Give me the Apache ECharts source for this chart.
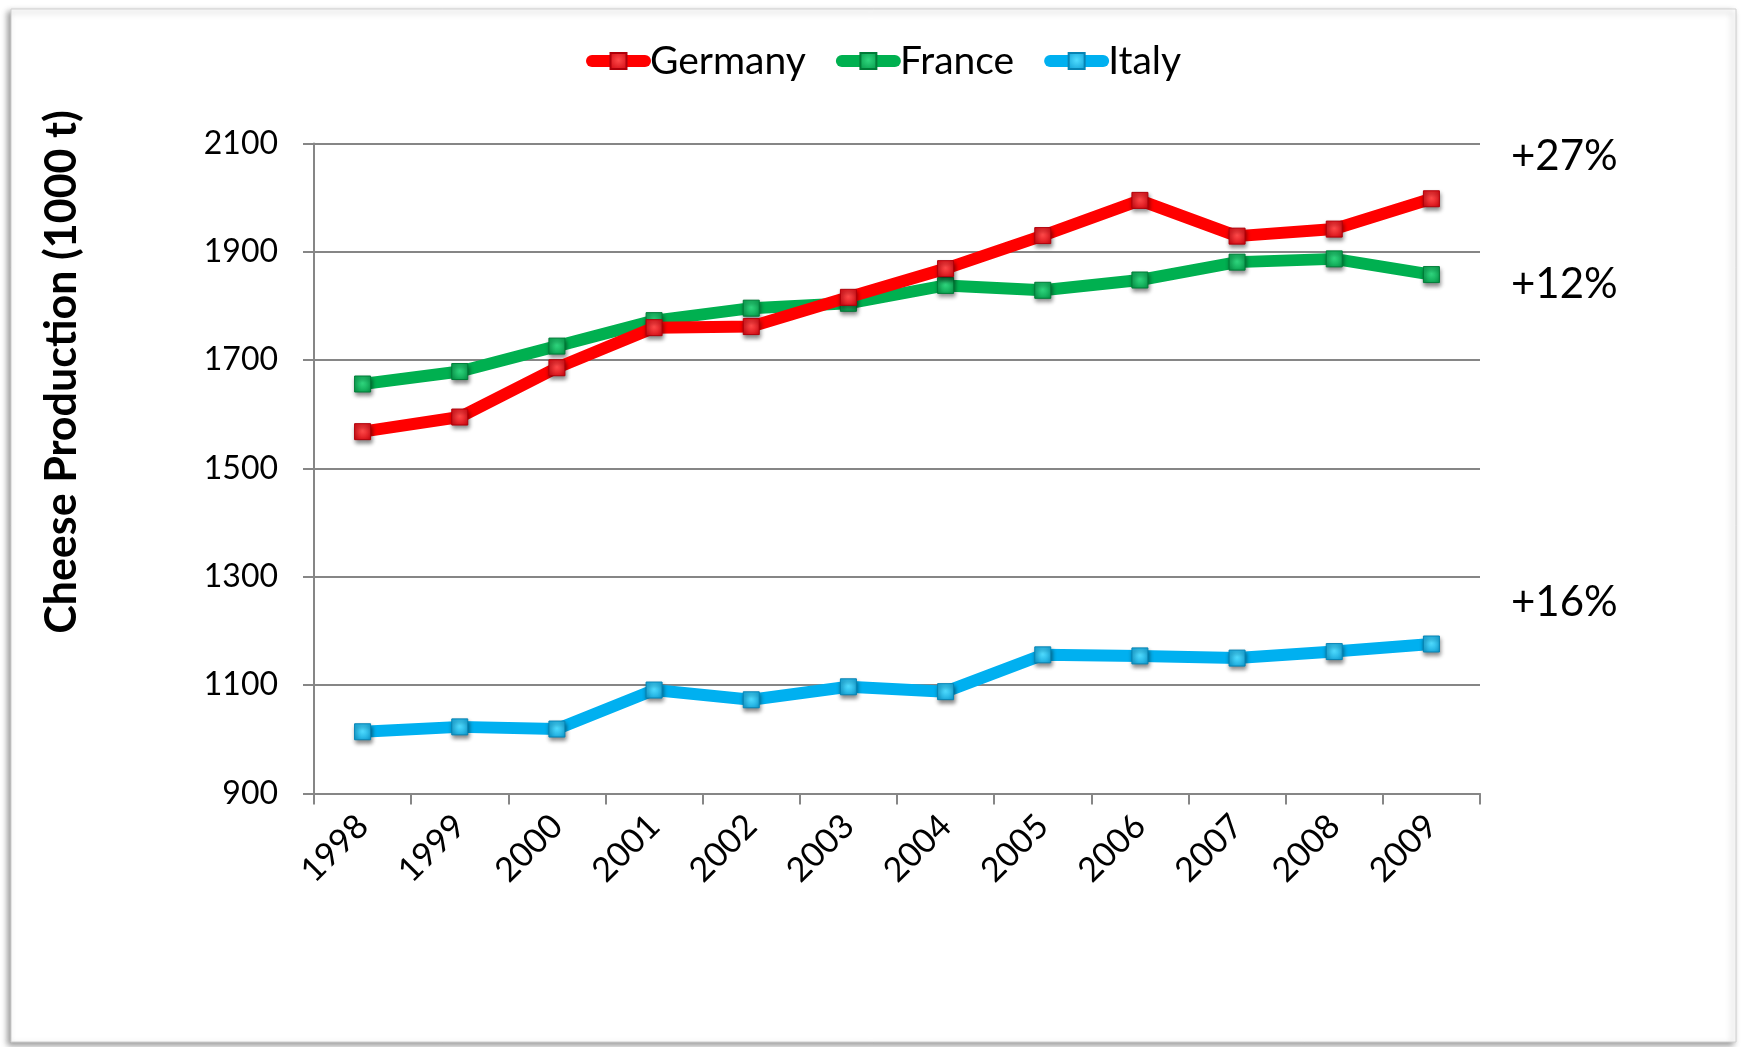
<!DOCTYPE html>
<html>
<head>
<meta charset="utf-8">
<title>Cheese Production</title>
<script src="https://cdn.jsdelivr.net/npm/echarts@6/dist/echarts.min.js"></script>
<style>
  html, body { margin: 0; padding: 0; background: #ffffff; }
  #chart { width: 1741px; height: 1047px; }
</style>
</head>
<body>
<div id="chart"></div>
<script>
// Cheese production, thousand tonnes
const years = ['1998', '1999', '2000', '2001', '2002', '2003', '2004', '2005', '2006', '2007', '2008', '2009'];
const germany = [1568, 1595, 1686, 1760, 1762, 1816, 1869, 1930, 1995, 1929, 1942, 1998];
const france  = [1656, 1679, 1726, 1773, 1796, 1805, 1838, 1829, 1848, 1881, 1887, 1858];
const italy   = [1014, 1023, 1019, 1091, 1073, 1097, 1088, 1156, 1154, 1150, 1162, 1176];

const seriesNames = ['Germany', 'France', 'Italy'];
const seriesData = [germany, france, italy];

const yMin = 900;
const yMax = 2100;
const yStep = 200;
const yAxisTitle = 'Cheese Production (1000 t)';

const FONT = 'Lato, "Open Sans", sans-serif';

// line colour, marker light / dark shades
const palette = [
  { line: '#ff0000', light: '#ff4a4a', dark: '#cc000a', edge: '#b0000a' },
  { line: '#00b050', light: '#30d67e', dark: '#009444', edge: '#007c38' },
  { line: '#00b0f0', light: '#50dcff', dark: '#0898d0', edge: '#0784b4' }
];

// growth from first to last year, shown to the right of the plot
const growthText = seriesData.map(d => '+' + Math.round((d[d.length - 1] / d[0] - 1) * 100) + '%');
const growthY = [156, 284, 602];

const chart = echarts.init(document.getElementById('chart'), null, { renderer: 'canvas' });

const markerFill = p => ({
  type: 'radial', x: 0.5, y: 0.45, r: 0.75,
  colorStops: [{ offset: 0, color: p.light }, { offset: 1, color: p.dark }]
});

const series = seriesNames.map((name, i) => ({
  name: name,
  type: 'line',
  data: seriesData[i],
  symbol: 'rect',
  symbolSize: 16,
  smooth: false,
  lineStyle: { color: palette[i].line, width: 12, cap: 'round', join: 'round' },
  itemStyle: {
    color: markerFill(palette[i]),
    borderColor: palette[i].edge,
    borderWidth: 1,
    shadowColor: 'rgba(0,0,0,0.45)',
    shadowBlur: 4,
    shadowOffsetX: 1,
    shadowOffsetY: 3
  },
  emphasis: { disabled: true },
  animation: false
}));
// Germany drawn over France where the lines cross
series[0].z = 5; series[1].z = 4; series[2].z = 3;

const graphics = [
  {
    type: 'rect',
    shape: { x: 11, y: 9, width: 1725, height: 1033 },
    style: {
      fill: '#ffffff',
      stroke: '#cfcfcf',
      lineWidth: 1,
      shadowColor: 'rgba(0,0,0,0.4)',
      shadowBlur: 6,
      shadowOffsetX: -3,
      shadowOffsetY: 3
    },
    z: -10,
    silent: true
  },
  {
    type: 'text',
    x: 62,
    y: 372,
    rotation: Math.PI / 2,
    style: {
      text: yAxisTitle,
      font: 'bold 43px ' + FONT,
      fill: '#000000',
      align: 'center',
      verticalAlign: 'middle'
    },
    silent: true
  }
].concat(growthText.map((t, i) => ({
  type: 'text',
  x: 1511,
  y: growthY[i],
  style: {
    text: t,
    font: '42px ' + FONT,
    fill: '#000000',
    align: 'left',
    verticalAlign: 'middle'
  },
  silent: true
})));

chart.setOption({
  backgroundColor: '#ffffff',
  animation: false,
  textStyle: { fontFamily: FONT },
  legend: {
    data: seriesNames,
    left: 581,
    top: 33,
    itemWidth: 53,
    itemHeight: 20,
    itemGap: 30,
    lineStyle: { width: 12, cap: 'round' },
    textStyle: { fontFamily: FONT, fontSize: 39, color: '#000000', lineHeight: 46 },
    selectedMode: false
  },
  grid: { left: 314, right: 261, top: 143.5, bottom: 253.5, containLabel: false },
  xAxis: {
    type: 'category',
    data: years,
    boundaryGap: true,
    axisLine: { show: true, lineStyle: { color: '#868686', width: 2 } },
    axisTick: { show: true, alignWithLabel: false, length: 11, lineStyle: { color: '#868686', width: 2 } },
    axisLabel: {
      rotate: 45,
      margin: 27,
      fontFamily: FONT,
      fontSize: 34,
      color: '#000000',
      interval: 0
    },
    splitLine: { show: false }
  },
  yAxis: {
    type: 'value',
    min: yMin,
    max: yMax,
    interval: yStep,
    axisLine: { show: true, lineStyle: { color: '#868686', width: 2 } },
    axisTick: { show: true, length: 11, lineStyle: { color: '#868686', width: 2 } },
    axisLabel: {
      margin: 36,
      fontFamily: FONT,
      fontSize: 32,
      color: '#000000',
      formatter: v => String(v)
    },
    splitLine: { show: true, lineStyle: { color: '#868686', width: 2 } }
  },
  series: series,
  graphic: graphics
});
</script>
</body>
</html>
